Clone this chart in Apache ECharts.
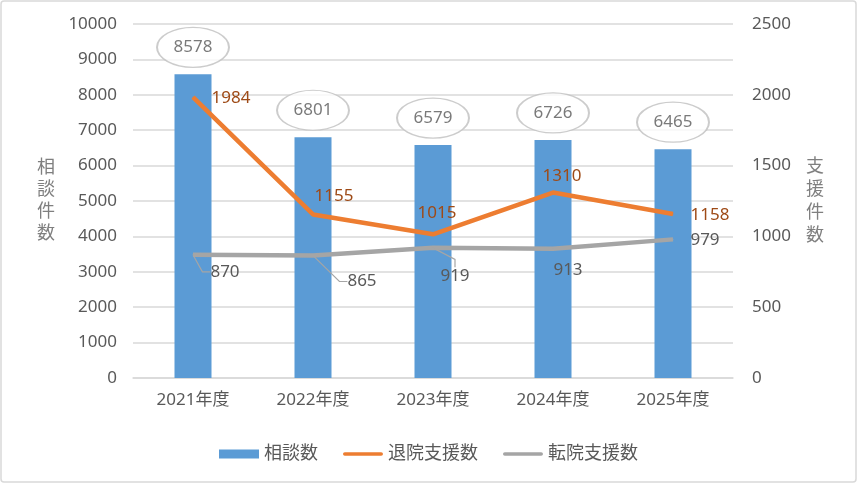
<!DOCTYPE html>
<html><head><meta charset="utf-8">
<script src="https://cdn.jsdelivr.net/npm/echarts@6/dist/echarts.min.js"></script>
<style>html,body{margin:0;padding:0;background:#fff}#c{width:857px;height:483px}</style>
</head><body><div id="c"></div>
<script>
const categories = ['2021年度','2022年度','2023年度','2024年度','2025年度'];
const consultCounts = [8578, 6801, 6579, 6726, 6465];      // 相談数
const dischargeSupport = [1984, 1155, 1015, 1310, 1158];    // 退院支援数
const transferSupport = [870, 865, 919, 913, 979];          // 転院支援数
const leftTicks = {min: 0, max: 10000, interval: 1000};
const rightTicks = {min: 0, max: 2500, interval: 500};

// label placement offsets (layout only)
const orangeLabelShift = [[38,1],[21,-18],[4,-21],[9,-16],[37,1]];
const grayLabelShift = [[32,17],[49,26],[22,28],[15,21],[32,1]];
const grayGuide = [true, true, true, false, false];

const FONT = "'Noto Sans', 'Noto Sans CJK JP', sans-serif";
const chart = echarts.init(document.getElementById('c'));
const legendLine = 'path://M0,2 A2,2 0 0 1 2,0 L42,0 A2,2 0 0 1 42,4 L2,4 A2,2 0 0 1 0,2 Z';
const plain = v => String(v);

chart.setOption({
  animation: false,
  backgroundColor: '#fff',
  textStyle: {fontFamily: FONT},
  graphic: [{type:'rect', shape:{x:1, y:1, width:855, height:481, r:3}, style:{fill:'none', stroke:'#D9D9D9', lineWidth:1.5}, silent:true, z:-1}],
  grid: {left: 133, right: 124, top: 24, bottom: 105},
  legend: {
    top: 440, left: 'center', itemWidth: 40, itemHeight: 9, itemGap: 25,
    textStyle: {fontSize: 18, color: '#595959', fontFamily: FONT},
    data: [
      {name: '相談数', icon: 'rect'},
      {name: '退院支援数', icon: legendLine},
      {name: '転院支援数', icon: legendLine}
    ]
  },
  xAxis: {
    type: 'category', data: categories,
    axisLine: {lineStyle: {color: '#D9D9D9', width: 1.5}},
    axisTick: {show: false},
    axisLabel: {color: '#595959', fontSize: 17, margin: 14, fontFamily: FONT}
  },
  yAxis: [{
    type: 'value', min: leftTicks.min, max: leftTicks.max, interval: leftTicks.interval,
    name: '相\n談\n件\n数', nameLocation: 'middle', nameRotate: 0, nameGap: 78,
    nameTextStyle: {fontSize: 18, lineHeight: 22, color: '#7F7F7F', fontFamily: FONT},
    axisLine: {show: false}, axisTick: {show: false},
    axisLabel: {color: '#595959', fontSize: 17, margin: 16, fontFamily: FONT, formatter: plain},
    splitLine: {lineStyle: {color: '#D9D9D9', width: 1.5}}
  }, {
    type: 'value', min: rightTicks.min, max: rightTicks.max, interval: rightTicks.interval,
    name: '支\n援\n件\n数', nameLocation: 'middle', nameRotate: 0, nameGap: 73,
    nameTextStyle: {fontSize: 18, lineHeight: 23, color: '#7F7F7F', fontFamily: FONT},
    axisLine: {show: false}, axisTick: {show: false},
    axisLabel: {color: '#595959', fontSize: 17, margin: 19, fontFamily: FONT, formatter: plain},
    splitLine: {show: false}
  }],
  series: [{
    name: '相談数', type: 'bar', data: consultCounts, barWidth: 37,
    itemStyle: {color: '#5B9BD5'}, z: 2
  }, {
    name: '相談数ラベル', type: 'scatter', data: consultCounts, yAxisIndex: 0,
    symbol: 'circle', symbolSize: [72, 40], symbolOffset: [0, -27],
    itemStyle: {color: '#fff', borderColor: '#BFBFBF', borderWidth: 1.5},
    label: {show: true, position: 'inside', color: '#595959', fontSize: 17, fontFamily: FONT},
    z: 10, silent: true
  }, {
    name: '退院支援数', type: 'line', yAxisIndex: 1, data: dischargeSupport,
    symbol: 'circle', symbolSize: 1, itemStyle: {color: '#ED7D31'},
    lineStyle: {color: '#ED7D31', width: 4.5},
    label: {show: true, position: 'inside', color: '#9E4A16', fontSize: 17, fontFamily: FONT},
    labelLayout: p => ({dx: orangeLabelShift[p.dataIndex][0], dy: orangeLabelShift[p.dataIndex][1]}),
    z: 5
  }, {
    name: '転院支援数', type: 'line', yAxisIndex: 1,
    data: transferSupport.map((v, i) => ({value: v, labelLine: {show: grayGuide[i]}})),
    symbol: 'circle', symbolSize: 1, itemStyle: {color: '#A5A5A5'},
    lineStyle: {color: '#A5A5A5', width: 4.5},
    label: {show: true, position: 'inside', color: '#595959', fontSize: 17, fontFamily: FONT},
    labelLine: {show: true, length2: 8, lineStyle: {color: '#A5A5A5', width: 1.2}},
    labelLayout: p => ({dx: grayLabelShift[p.dataIndex][0], dy: grayLabelShift[p.dataIndex][1]}),
    z: 4
  }]
});
</script></body></html>
